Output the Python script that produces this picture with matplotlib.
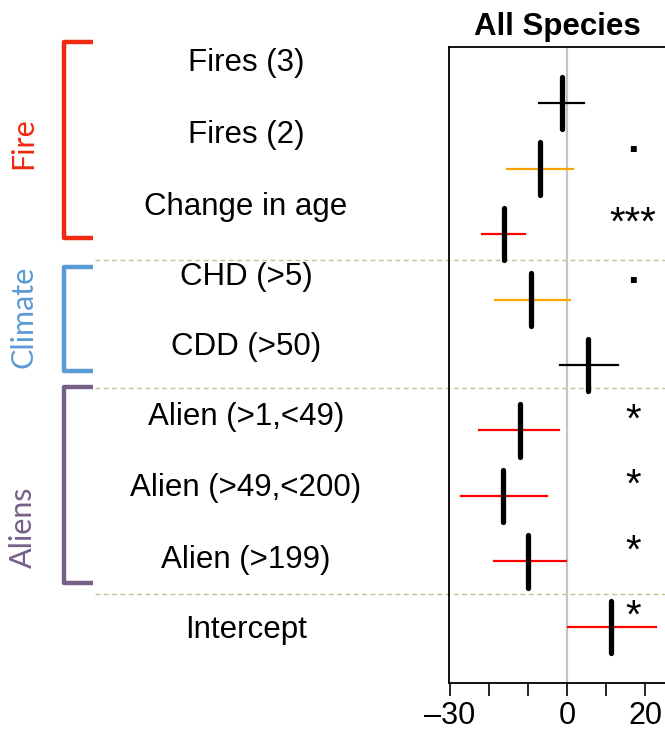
import matplotlib.pyplot as plt
from matplotlib.transforms import blended_transform_factory

# values (x in model units, rows top to bottom)
labels = ['Fires (3)', 'Fires (2)', 'Change in age', 'CHD (>5)', 'CDD (>50)',
          'Alien (>1,<49)', 'Alien (>49,<200)', 'Alien (>199)', 'Intercept']
estimate = [-1.4, -6.9, -16.2, -9.2, 5.4, -12.0, -16.4, -10.1, 11.2]
ci_low = [-7.1, -15.4, -21.8, -18.4, -1.8, -22.6, -27.1, -18.6, 0.3]
ci_high = [4.2, 1.5, -10.9, 0.6, 12.9, -2.0, -5.2, -0.3, 22.6]
ci_color = ['black', '#ffa500', '#ff0000', '#ffa500', 'black',
            '#ff0000', '#ff0000', '#ff0000', '#ff0000']
signif = ['', '.', '***', '.', '', '*', '*', '*', '*']

# label rows on the left are spaced a bit differently from the plot rows
label_rows = [0.39, 1.49, 2.59, 3.66, 4.73, 5.79, 6.88, 7.98, 9.05]
separators = [3.40, 5.35, 8.49]

groups = ['Fire', 'Climate', 'Aliens']
group_start = [0.07, 3.50, 5.34]
group_end = [3.06, 5.09, 8.33]
group_mid = [1.61, 4.27, 7.47]
group_color = ['#f0290f', '#5b9bd5', '#76608a']

plt.rcParams['font.family'] = ['Liberation Sans', 'DejaVu Sans']

fig = plt.figure(figsize=(6.65, 7.34), dpi=100)
ax = fig.add_axes([449 / 665, 1 - 683 / 734, 1 - 449 / 665, (683 - 47) / 734])

rows = list(range(1, len(labels) + 1))
ax.axvline(0, color='#c4c4c4', lw=1.6, zorder=1)
for r, est, lo, hi, c in zip(rows, estimate, ci_low, ci_high, ci_color):
    ax.plot([lo, hi], [r, r], color=c, lw=1.6, zorder=2)
    ax.plot([est, est], [r - 0.4, r + 0.4], color='black', lw=3.8,
            solid_capstyle='round', zorder=3)

for r, s in zip(rows, signif):
    if not s:
        continue
    if s == '.':
        ax.text(16.8, r - 0.25, s, ha='center', va='baseline', fontsize=30,
                fontweight='bold')
    else:
        ax.text(16.8, r + 0.01, s, ha='center', va='baseline', fontsize=29)

ax.set_xlim(-30.2, 25)
ax.set_ylim(9.855, 0.145)
ax.set_xticks([-30, -20, -10, 0, 10, 20])
ax.set_xticklabels(['\u201330', '', '', '0', '', '20'])
ax.set_yticks([])
ax.tick_params(axis='x', length=9, width=1.2, labelsize=22, pad=4)
for sp in ['left', 'top', 'bottom']:
    ax.spines[sp].set_linewidth(1.3)
ax.spines['right'].set_visible(False)
ax.set_title('All Species', fontsize=22.5, fontweight='bold', pad=9)

# row labels, separators and group brackets live outside the axes
tr = blended_transform_factory(fig.transFigure, ax.transData)
for lab, y in zip(labels, label_rows):
    ax.text(246 / 665, y, lab, transform=tr, ha='center', va='center',
            fontsize=22.5, clip_on=False)

for y in separators:
    ax.plot([95 / 665, 1.0], [y, y], transform=tr, color='#c9bf94',
            lw=1.0, ls=(0, (3.5, 2.5)), clip_on=False, zorder=0)

bx0, bx1 = 64 / 665, 93 / 665
for g, s, e, m, c in zip(groups, group_start, group_end, group_mid, group_color):
    ax.plot([bx1, bx0, bx0, bx1], [s, s, e, e], transform=tr, color=c,
            lw=3.2, solid_joinstyle='round', solid_capstyle='butt', clip_on=False)
    ax.text(23 / 665, m, g, transform=tr, rotation=90, ha='center', va='center',
            color=c, fontsize=22, family=['Lato', 'DejaVu Sans'], clip_on=False)

fig.savefig('out.png', dpi=100)
